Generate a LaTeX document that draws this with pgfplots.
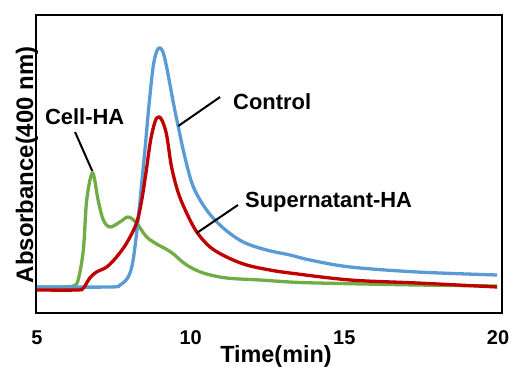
\documentclass[border=0pt]{standalone}
\usepackage{pgfplots}
\pgfplotsset{compat=1.18}
\usepackage{fontspec}
\setmainfont{Liberation Sans}
\definecolor{cblue}{HTML}{5B9BD5}
\definecolor{cred}{HTML}{C00000}
\definecolor{cgreen}{HTML}{70AD47}
\begin{document}
\begin{tikzpicture}
\begin{axis}[
  scale only axis,
  width=466bp, height=298bp,
  xmin=4.97, xmax=20.13, ymin=0, ymax=298,
  axis line style={line width=2.2bp},
  xtick={5,10,15,20},
  ytick=\empty,
  major tick length=0pt,
  /pgf/number format/assume math mode=true,
  xticklabel style={font=\fontsize{20}{20}\selectfont\bfseries, anchor=base, yshift=-31bp},
  xlabel={Time(min)},
  ylabel={Absorbance(400 nm)},
  xlabel style={font=\fontsize{23.5}{23.5}\selectfont\bfseries, inner sep=0pt, at={(axis description cs:0.515,-0.166)}, anchor=base},
  ylabel style={font=\fontsize{24}{24}\selectfont\bfseries, at={(axis description cs:-0.0064,0.497)}, anchor=base},
  clip=false,
]
% Cell-HA
\addplot[cgreen, line width=3.3bp, smooth, tension=0.55] coordinates {
(5,26)(5.75,26)(6.18,27)(6.34,33)(6.51,63)(6.62,113)(6.81,140)(6.99,113)(7.16,93)(7.38,86)(7.70,91)(7.97,96)(8.24,90)(8.57,76)(8.95,68)(9.2,64)(9.44,59)(9.87,48)(10.41,40)(11.17,35)(12.26,33)(13.23,31)(14.11,30)(17.37,28)(19.97,27)
};
% Control
\addplot[cblue, line width=3.3bp, smooth, tension=0.55] coordinates {
(5,26)(7.38,26)(7.70,28)(7.97,36)(8.13,53)(8.30,96)(8.41,130)(8.52,165)(8.64,206)(8.78,246)(8.90,262)(9.00,265)(9.10,261)(9.22,246)(9.44,210)(9.60,186)(9.82,155)(10.09,126)(10.52,103)(11.06,85)(11.71,71)(12.47,63)(13.23,58)(13.88,53)(15.19,46)(17.37,41)(19.97,38)
};
% Supernatant-HA
\addplot[cred, line width=3.3bp, smooth, tension=0.55] coordinates {
(5,23)(6.3,23)(6.51,25)(6.72,35)(6.94,41)(7.27,46)(7.59,56)(7.92,70)(8.24,90)(8.41,113)(8.56,143)(8.70,173)(8.85,192)(8.97,196)(9.08,192)(9.22,178)(9.38,146)(9.60,120)(9.87,100)(10.20,81)(10.63,66)(11.17,56)(11.82,48)(12.58,43)(13.23,40)(15.19,33)(17.37,30)(19.97,26)
};
\draw[black, line width=2bp] (axis cs:9.60,187) -- (axis cs:10.96,216);
\draw[black, line width=2bp] (axis cs:10.20,80) -- (axis cs:11.54,108);
\draw[black, line width=2bp] (axis cs:6.24,181) -- (axis cs:6.80,142);
\node[anchor=base west, inner sep=0pt, font=\fontsize{22}{22}\selectfont\bfseries] at (axis cs:11.38,203) {Control};
\node[anchor=base west, inner sep=0pt, font=\fontsize{22}{22}\selectfont\bfseries] at (axis cs:11.77,105) {Supernatant-HA};
\node[anchor=base west, inner sep=0pt, font=\fontsize{22}{22}\selectfont\bfseries] at (axis cs:5.26,188) {Cell-HA};
\end{axis}
\pgfresetboundingbox
\useasboundingbox (-36bp,-56bp) rectangle (479bp,313bp);
\end{tikzpicture}
\end{document}
